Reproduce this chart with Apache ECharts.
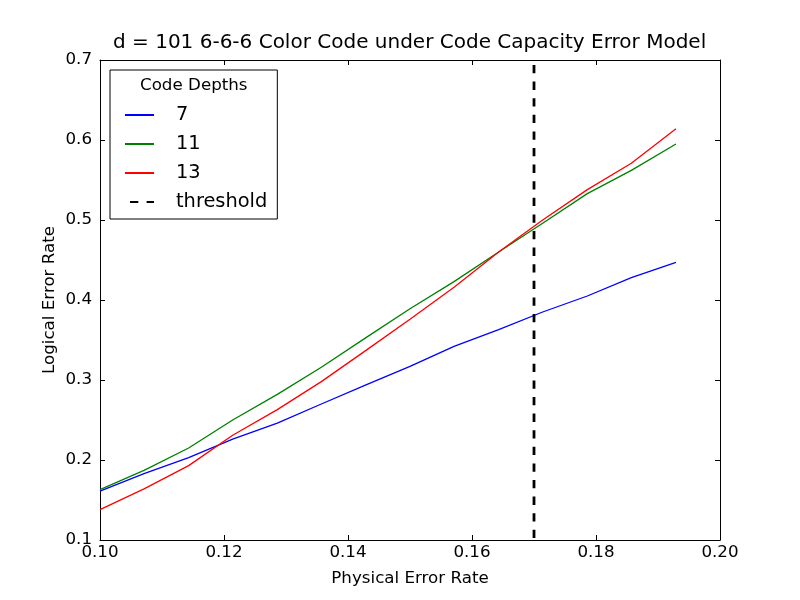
<!DOCTYPE html>
<html>
<head>
<meta charset="utf-8">
<script src="https://cdn.jsdelivr.net/npm/echarts@6/dist/echarts.min.js"></script>
<style>html,body{margin:0;padding:0;background:#fff}#c{width:800px;height:600px}</style>
</head>
<body>
<div id="c"></div>
<script>
const physicalErrorRate = [0.1000, 0.1071, 0.1143, 0.1214, 0.1286, 0.1357, 0.1429, 0.1500, 0.1571, 0.1643, 0.1714, 0.1786, 0.1857, 0.1929];
const depth7  = [0.161, 0.183, 0.203, 0.226, 0.246, 0.270, 0.294, 0.317, 0.342, 0.363, 0.385, 0.405, 0.428, 0.447];
const depth11 = [0.163, 0.187, 0.215, 0.250, 0.282, 0.316, 0.353, 0.389, 0.423, 0.460, 0.496, 0.533, 0.562, 0.595];
const depth13 = [0.138, 0.164, 0.193, 0.231, 0.263, 0.298, 0.337, 0.376, 0.416, 0.460, 0.500, 0.538, 0.571, 0.614];
const thresholdX = 0.17;
const yRange = [0.1, 0.7];
const seriesNames = ['7', '11', '13', 'threshold'];

const FONT = 'DejaVu Sans';
const pair = (xs, ys) => xs.map((x, i) => [x, ys[i]]);

const chart = echarts.init(document.getElementById('c'), null, {renderer: 'canvas'});
const axisCommon = {
  axisLine: {show: true, onZero: false, lineStyle: {color: '#000', width: 1}},
  axisTick: {show: true, inside: true, length: 5, lineStyle: {color: '#000', width: 1}},
  splitLine: {show: false}
};
const noSymbol = {opacity: 0};
chart.setOption({
  animation: false,
  backgroundColor: '#fff',
  title: [{
    text: 'd = 101 6-6-6 Color Code under Code Capacity Error Model',
    left: 113, top: 33, padding: 0,
    textStyle: {fontFamily: FONT, fontSize: 20, fontWeight: 'normal', color: '#000'}
  }, {
    text: 'Code Depths',
    left: 140, top: 77, padding: 0,
    textStyle: {fontFamily: FONT, fontSize: 16.7, fontWeight: 'normal', color: '#000'}
  }],
  grid: {left: 100, right: 80, top: 60, bottom: 60, containLabel: false},
  legend: {
    data: seriesNames,
    orient: 'vertical', left: 110, top: 70,
    padding: [35, 10, 7, 14],
    itemGap: 9, itemWidth: 29, itemHeight: 20,
    borderColor: '#000', borderWidth: 1, backgroundColor: '#fff',
    selectedMode: false,
    itemStyle: {opacity: 0},
    textStyle: {fontFamily: FONT, fontSize: 19.4, color: '#000', lineHeight: 20, padding: [0, 0, 0, 17]}
  },
  xAxis: [{
    type: 'value', min: 0.1, max: 0.2, interval: 0.02, position: 'bottom',
    name: 'Physical Error Rate', nameLocation: 'middle', nameGap: 30, nameMoveOverlap: false,
    nameTextStyle: {fontFamily: FONT, fontSize: 16.7, color: '#000'},
    axisLabel: {fontFamily: FONT, fontSize: 16.7, color: '#000', margin: 4, formatter: v => v.toFixed(2)},
    ...axisCommon
  }, {
    type: 'value', min: 0.1, max: 0.2, interval: 0.02, position: 'top',
    axisLabel: {show: false}, ...axisCommon
  }],
  yAxis: [{
    type: 'value', min: yRange[0], max: yRange[1], interval: 0.1, position: 'left',
    name: 'Logical Error Rate', nameLocation: 'middle', nameGap: 42, nameMoveOverlap: false,
    nameTextStyle: {fontFamily: FONT, fontSize: 16.7, color: '#000'},
    axisLabel: {fontFamily: FONT, fontSize: 16.7, color: '#000', margin: 8, formatter: v => v.toFixed(1)},
    ...axisCommon
  }, {
    type: 'value', min: yRange[0], max: yRange[1], interval: 0.1, position: 'right',
    axisLabel: {show: false}, ...axisCommon
  }],
  series: [
    {name: seriesNames[0], type: 'line', data: pair(physicalErrorRate, depth7), showSymbol: false, symbol: 'none',
     color: '#0000ff', itemStyle: noSymbol, lineStyle: {color: '#0000ff', width: 1.3}},
    {name: seriesNames[1], type: 'line', data: pair(physicalErrorRate, depth11), showSymbol: false, symbol: 'none',
     color: '#008000', itemStyle: noSymbol, lineStyle: {color: '#008000', width: 1.3}},
    {name: seriesNames[2], type: 'line', data: pair(physicalErrorRate, depth13), showSymbol: false, symbol: 'none',
     color: '#ff0000', itemStyle: noSymbol, lineStyle: {color: '#ff0000', width: 1.3}},
    {name: seriesNames[3], type: 'line', data: [[thresholdX, yRange[1]], [thresholdX, yRange[0]]], showSymbol: false, symbol: 'none',
     color: '#000', itemStyle: noSymbol, lineStyle: {color: '#000', width: 2.8, type: [8.3, 8.3], dashOffset: -5}}
  ]
});
</script>
</body>
</html>
